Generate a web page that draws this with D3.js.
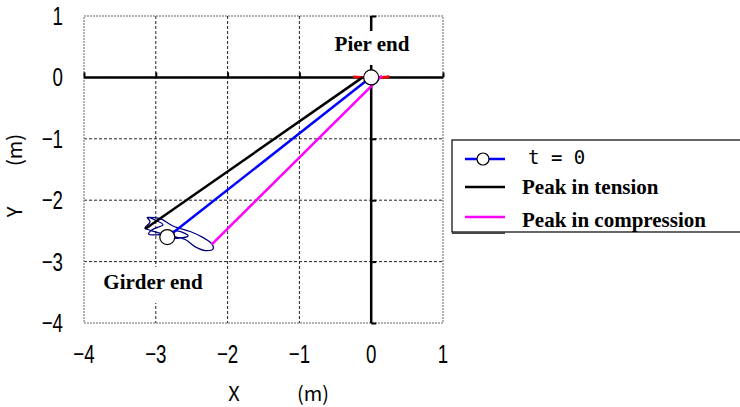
<!DOCTYPE html>
<html>
<head>
<meta charset="utf-8">
<script src="https://cdn.jsdelivr.net/npm/d3@7"></script>
<style>
  body { margin: 0; background: #fff; }
  svg { display: block; }
  .tick-label { font-family: "Liberation Sans", Arial, sans-serif; font-size: 26px; fill: #000; }
  .note { font-family: "Liberation Serif", "Times New Roman", serif; font-weight: bold; font-size: 21px; fill: #000; }
  .axis-title { font-family: "Noto Sans CJK JP", sans-serif; font-size: 20px; fill: #000; }
  .mono { font-family: "DejaVu Sans Mono", "Liberation Mono", monospace; font-size: 19px; fill: #000; }
</style>
</head>
<body>
<svg id="chart" width="740" height="407"></svg>
<script>
// axis ticks
var xTicks = [-4, -3, -2, -1, 0, 1];
var yTicks = [1, 0, -1, -2, -3, -4];

// member position at t = 0 (pier end, girder end)
var initialPoints = [[0, 0], [-2.84, -2.6]];
var initialLine = [[-0.02, -0.01], [-2.77, -2.54]];
// member at peak response
var tensionLine = [[-0.12, 0.0], [-3.15, -2.47]];
var compressionLine = [[0.15, 0.03], [-2.22, -2.72]];

// trajectories of the two ends
var pierPath = [[-0.25, 0.01], [-0.1, 0.0], [0.05, -0.01], [0.2, 0.0], [0.25, 0.01], [0.1, 0.0], [-0.2, 0.0]];
var girderPath = [
  [-3.12, -2.28], [-2.94, -2.30], [-2.76, -2.42], [-2.52, -2.51], [-2.34, -2.61],
  [-2.22, -2.71], [-2.20, -2.79], [-2.31, -2.82], [-2.45, -2.76], [-2.59, -2.64],
  [-2.80, -2.58], [-2.97, -2.53], [-3.14, -2.46], [-3.15, -2.45], [-3.08, -2.35],
  [-3.12, -2.28], [-3.0, -2.33], [-2.9, -2.4], [-3.05, -2.48], [-3.1, -2.55],
  [-2.95, -2.56], [-2.7, -2.5], [-2.55, -2.58], [-2.7, -2.62], [-2.85, -2.6]
];

var legendItems = [
  { label: "t = 0", color: "#0000ff", marker: true, mono: true },
  { label: "Peak in tension", color: "#000000", marker: false },
  { label: "Peak in compression", color: "#ff00ff", marker: false }
];

var svg = d3.select("#chart");

var x = d3.scaleLinear().domain([-4, 1]).range([84, 443]);
var y = d3.scaleLinear().domain([-4, 1]).range([323, 16]);

var line = d3.line().x(function(d) { return x(d[0]); }).y(function(d) { return y(d[1]); });

function fmt(d) { return d < 0 ? "\u2212" + Math.abs(d) : String(d); }

// grid
var grid = svg.append("g");
grid.selectAll(".gx")
  .data(xTicks.filter(function(d) { return d > -4 && d < 1; }))
  .enter().append("line")
  .attr("x1", function(d) { return x(d); })
  .attr("x2", function(d) { return x(d); })
  .attr("y1", y(1)).attr("y2", y(-4))
  .attr("stroke", "#222").attr("stroke-width", 1).attr("stroke-dasharray", "3,2");
grid.selectAll(".gy")
  .data(yTicks.filter(function(d) { return d > -4 && d < 1; }))
  .enter().append("line")
  .attr("y1", function(d) { return y(d); })
  .attr("y2", function(d) { return y(d); })
  .attr("x1", x(-4)).attr("x2", x(1))
  .attr("stroke", "#222").attr("stroke-width", 1).attr("stroke-dasharray", "3,2");

grid.append("rect")
  .attr("x", x(-4)).attr("y", y(1))
  .attr("width", x(1) - x(-4)).attr("height", y(-4) - y(1))
  .attr("fill", "none").attr("stroke", "#999").attr("stroke-width", 1.5)
  .attr("stroke-dasharray", "2,1");

// axes through the origin
var xAxis = d3.axisTop(x).tickValues(xTicks).tickSize(5).tickFormat("");
var yAxis = d3.axisRight(y).tickValues(yTicks).tickSize(5).tickFormat("");

svg.append("g")
  .attr("transform", "translate(0," + y(0) + ")")
  .call(xAxis)
  .call(function(g) {
    g.select(".domain").attr("stroke", "#000").attr("stroke-width", 2.5).attr("d", "M" + x(-4) + ",0H" + x(1));
    g.selectAll(".tick line").attr("stroke", "#000").attr("stroke-width", 2);
  });

svg.append("g")
  .attr("transform", "translate(" + x(0) + ",0)")
  .call(yAxis)
  .call(function(g) {
    g.select(".domain").attr("stroke", "#000").attr("stroke-width", 2.5).attr("d", "M0," + y(1) + "V" + y(-4));
    g.selectAll(".tick line").attr("stroke", "#000").attr("stroke-width", 2);
  });

// tick labels outside the frame (condensed)
svg.selectAll(".xl")
  .data(xTicks).enter().append("text")
  .attr("class", "tick-label")
  .attr("transform", function(d) { return "translate(" + x(d) + ",363) scale(0.72,1)"; })
  .attr("text-anchor", "middle")
  .text(fmt);

svg.selectAll(".yl")
  .data(yTicks).enter().append("text")
  .attr("class", "tick-label")
  .attr("transform", function(d) { return "translate(63," + (y(d) + 9) + ") scale(0.72,1)"; })
  .attr("text-anchor", "end")
  .text(fmt);

// axis titles
svg.append("text").attr("class", "axis-title").attr("x", 234).attr("y", 401).attr("text-anchor", "middle").text("X");
svg.append("text").attr("class", "axis-title").attr("x", 313).attr("y", 401).attr("text-anchor", "middle").text("(m)");
svg.append("text").attr("class", "axis-title").attr("transform", "translate(22,212) rotate(-90)").attr("text-anchor", "middle").text("Y");
svg.append("text").attr("class", "axis-title").attr("transform", "translate(22,150) rotate(-90)").attr("text-anchor", "middle").text("(m)");

// annotation boxes (white backgrounds hide grid and axis)
svg.append("rect").attr("x", 332).attr("y", 31).attr("width", 80).attr("height", 34).attr("fill", "#fff");
svg.append("rect").attr("x", 101).attr("y", 267).attr("width", 104).attr("height", 36).attr("fill", "#fff");

// trajectories
svg.append("path").datum(pierPath)
  .attr("d", line).attr("fill", "none").attr("stroke", "#ff0000").attr("stroke-width", 2.5);
svg.append("path").datum(girderPath)
  .attr("d", d3.line().curve(d3.curveCatmullRom).x(function(d) { return x(d[0]); }).y(function(d) { return y(d[1]); }))
  .attr("fill", "none").attr("stroke", "#000080").attr("stroke-width", 1.3);

// member positions
[[tensionLine, "#000000"], [initialLine, "#0000ff"], [compressionLine, "#ff00ff"]].forEach(function(s) {
  svg.append("path").datum(s[0])
    .attr("d", line).attr("fill", "none").attr("stroke", s[1]).attr("stroke-width", 2.5);
});

svg.selectAll(".pt")
  .data(initialPoints).enter().append("circle")
  .attr("cx", function(d) { return x(d[0]); })
  .attr("cy", function(d) { return y(d[1]); })
  .attr("r", 7.5)
  .attr("fill", "#fff").attr("stroke", "#000").attr("stroke-width", 1.2);

// annotation text
svg.append("text").attr("class", "note").attr("x", 372).attr("y", 51).attr("text-anchor", "middle").text("Pier end");
svg.append("text").attr("class", "note").attr("x", 153).attr("y", 289).attr("text-anchor", "middle").text("Girder end");

// legend
var legend = svg.append("g");
legend.append("rect")
  .attr("x", 452).attr("y", 140).attr("width", 300).attr("height", 92)
  .attr("fill", "#fff").attr("stroke", "#000").attr("stroke-width", 1.2);
legend.append("line").attr("x1", 452).attr("x2", 505).attr("y1", 233).attr("y2", 233)
  .attr("stroke", "#444").attr("stroke-width", 2);

var rowLine = [159, 187, 217];
var rowText = [164, 194, 227];
var rows = legend.selectAll(".row")
  .data(legendItems).enter().append("g");
rows.append("line")
  .attr("x1", 465).attr("x2", 505)
  .attr("y1", function(d, i) { return rowLine[i]; })
  .attr("y2", function(d, i) { return rowLine[i]; })
  .attr("stroke", function(d) { return d.color; }).attr("stroke-width", 2.5);
rows.filter(function(d) { return d.marker; }).append("circle")
  .attr("cx", 483).attr("cy", rowLine[0]).attr("r", 6)
  .attr("fill", "#fff").attr("stroke", "#000").attr("stroke-width", 1.2);
rows.append("text")
  .attr("x", function(d) { return d.mono ? 528 : 522; })
  .attr("y", function(d, i) { return rowText[i]; })
  .attr("class", function(d) { return d.mono ? "mono" : "note"; })
  .text(function(d) { return d.label; });
</script>
</body>
</html>
